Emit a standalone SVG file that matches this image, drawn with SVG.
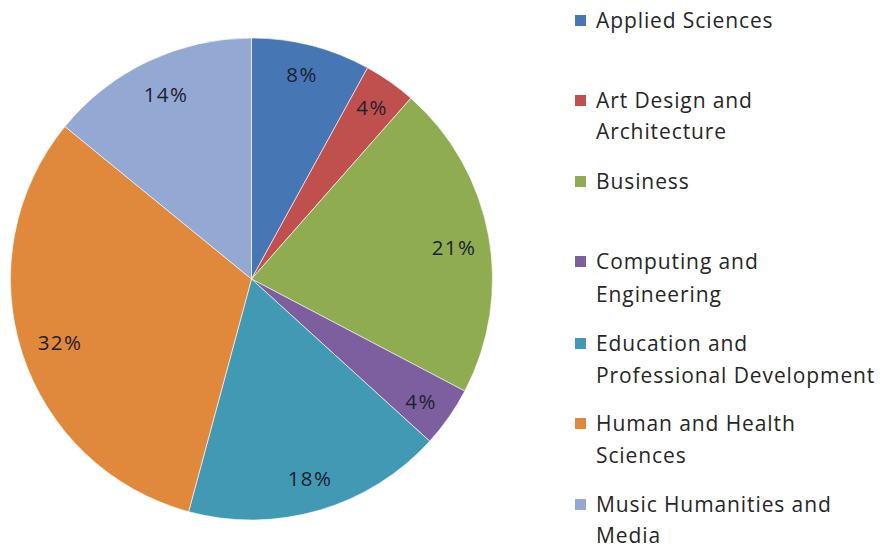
<svg xmlns="http://www.w3.org/2000/svg" width="884" height="548" viewBox="0 0 884 548">
<style>
.sl{stroke:#ffffff;stroke-width:1;stroke-opacity:0.6;stroke-linejoin:round}
.pct{font-family:"Open Sans","Liberation Sans",sans-serif;font-size:20.5px;letter-spacing:1.3px;fill:#1e2030;text-anchor:middle}
.lg{font-family:"Open Sans","Liberation Sans",sans-serif;font-size:21px;letter-spacing:0.9px;fill:#262626}
</style>
<rect width="884" height="548" fill="#ffffff"/>
<g id="pie">
<g id="slice-applied"><path class="sl" fill="#4677b4" d="M251.5,279 L251.5,38 A241,241 0 0 1 367.6,67.8 Z"/></g>
<g id="slice-art"><path class="sl" fill="#c0504d" d="M251.5,279 L367.6,67.8 A241,241 0 0 1 410.9,98.2 Z"/></g>
<g id="slice-business"><path class="sl" fill="#8fad50" d="M251.5,279 L410.9,98.2 A241,241 0 0 1 464.8,391.1 Z"/></g>
<g id="slice-computing"><path class="sl" fill="#7d5f9f" d="M251.5,279 L464.8,391.1 A241,241 0 0 1 429.7,441.2 Z"/></g>
<g id="slice-education"><path class="sl" fill="#4299b4" d="M251.5,279 L429.7,441.2 A241,241 0 0 1 188.6,511.7 Z"/></g>
<g id="slice-human"><path class="sl" fill="#e0883c" d="M251.5,279 L188.6,511.7 A241,241 0 0 1 64.9,126.5 Z"/></g>
<g id="slice-music"><path class="sl" fill="#93a9d3" d="M251.5,279 L64.9,126.5 A241,241 0 0 1 251.5,38 Z"/></g>
<text class="pct" x="302" y="82">8%</text>
<text class="pct" x="372" y="115">4%</text>
<text class="pct" x="454" y="255">21%</text>
<text class="pct" x="421" y="409">4%</text>
<text class="pct" x="310" y="486">18%</text>
<text class="pct" x="60" y="350">32%</text>
<text class="pct" x="166" y="102">14%</text>
</g>
<g id="legend">
<g id="lg-applied"><rect x="575" y="15" width="11" height="11" fill="#4677b4"/><text class="lg" x="596" y="28">Applied Sciences</text></g>
<g id="lg-art"><rect x="575" y="95" width="11" height="11" fill="#c0504d"/><text class="lg" x="596" y="108">Art Design and</text><text class="lg" x="596" y="139">Architecture</text></g>
<g id="lg-business"><rect x="575" y="176" width="11" height="11" fill="#8fad50"/><text class="lg" x="596" y="189">Business</text></g>
<g id="lg-computing"><rect x="575" y="256" width="11" height="11" fill="#7d5f9f"/><text class="lg" x="596" y="269">Computing and</text><text class="lg" x="596" y="302">Engineering</text></g>
<g id="lg-education"><rect x="575" y="338" width="11" height="11" fill="#4299b4"/><text class="lg" x="596" y="351">Education and</text><text class="lg" x="596" y="383">Professional Development</text></g>
<g id="lg-human"><rect x="575" y="418" width="11" height="11" fill="#e0883c"/><text class="lg" x="596" y="431">Human and Health</text><text class="lg" x="596" y="463">Sciences</text></g>
<g id="lg-music"><rect x="575" y="499" width="11" height="11" fill="#93a9d3"/><text class="lg" x="596" y="512">Music Humanities and</text><text class="lg" x="596" y="543">Media</text></g>
</g>
</svg>
